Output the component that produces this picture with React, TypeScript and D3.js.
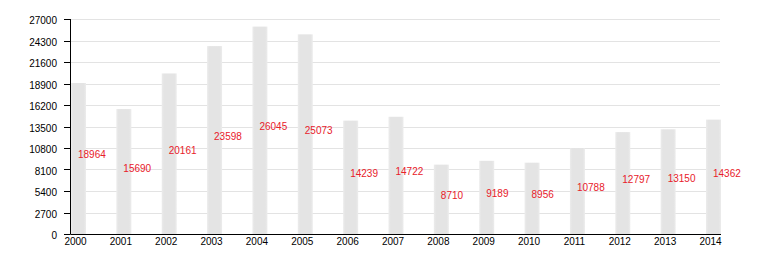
import React from "react";
import * as d3 from "d3";

const years = ["2000","2001","2002","2003","2004","2005","2006","2007","2008","2009","2010","2011","2012","2013","2014"];
const values = [18964,15690,20161,23598,26045,25073,14239,14722,8710,9189,8956,10788,12797,13150,14362];
const yTicks = [0,2700,5400,8100,10800,13500,16200,18900,21600,24300,27000];

const W = 760, H = 253;
const left = 70.5, top = 19, bottom = 234;

export default function App() {
  const y = d3.scaleLinear().domain([0, 27000]).range([bottom, top]);
  const x = d3.scalePoint().domain(years).range([71, 706]);
  const bw = 15;
  const bx = (yr: string) => x(yr) as number;
  return (
    <svg width={W} height={H} style={{ position: "absolute", left: 0, top: 0 }} fontFamily="Liberation Sans, Arial, sans-serif">
      <defs>
        <linearGradient id="bg" x1="0" x2="1" y1="0" y2="0">
          <stop offset="0" stopColor="#ececec" />
          <stop offset="0.15" stopColor="#e4e4e4" />
          <stop offset="0.85" stopColor="#e4e4e4" />
          <stop offset="1" stopColor="#ececec" />
        </linearGradient>
      </defs>
      <rect width={W} height={H} fill="#fff" />
      {yTicks.filter(t => t > 0).map(t => (
        <line key={t} x1={left} x2={720} y1={Math.round(y(t)) + 0.5} y2={Math.round(y(t)) + 0.5} stroke="#e3e3e3" strokeWidth={1} />
      ))}
      {years.map((yr, i) => (
        <rect key={yr} x={bx(yr)} y={y(values[i])} width={bw} height={bottom - y(values[i])} fill="url(#bg)" />
      ))}
      <line x1={left} x2={left} y1={top} y2={bottom} stroke="#000" />
      <line x1={left} x2={721} y1={bottom + 0.5} y2={bottom + 0.5} stroke="#000" />
      {yTicks.map(t => (
        <g key={t}>
          <line x1={64} x2={left} y1={Math.round(y(t)) + 0.5} y2={Math.round(y(t)) + 0.5} stroke="#000" />
          <text x={57} y={y(t) + 5} textAnchor="end" fontSize={10} fill="#000">{t}</text>
        </g>
      ))}
      {years.map((yr) => (
        <text key={yr} x={bx(yr) + bw / 2 - 3} y={245} textAnchor="middle" fontSize={10} fill="#000">{yr}</text>
      ))}
      {years.map((yr, i) => (
        <text key={yr} x={bx(yr) + 7} y={y(values[i] / 2)} fontSize={10} fill="#e8202a">{values[i]}</text>
      ))}
    </svg>
  );
}
